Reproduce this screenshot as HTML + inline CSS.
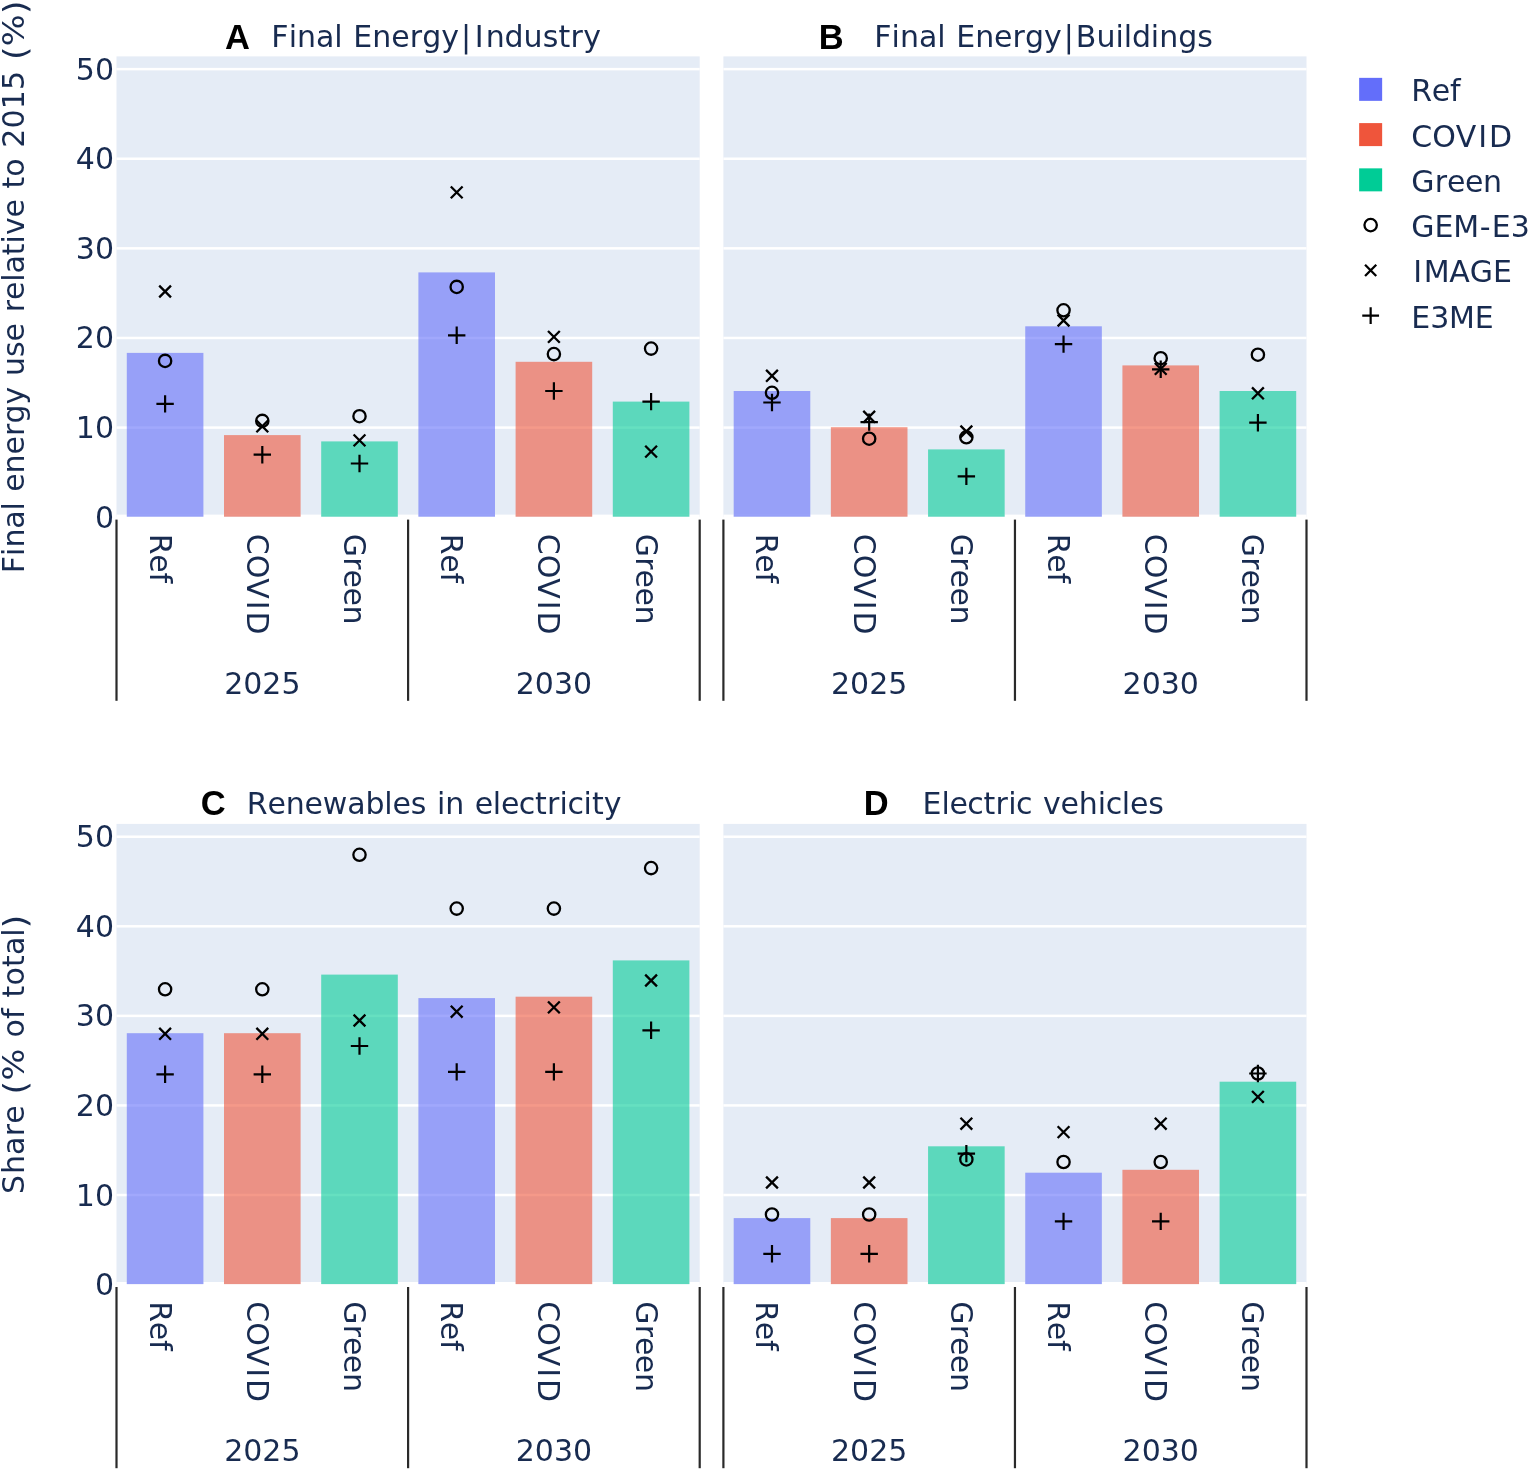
<!DOCTYPE html>
<html><head><meta charset="utf-8"><title>Energy scenarios</title>
<style>html,body{margin:0;padding:0;background:#fff;} svg{display:block;}</style>
</head><body>
<svg width="1535" height="1470" viewBox="0 0 1535 1470" font-family="'DejaVu Sans', 'Liberation Sans', sans-serif">
<rect x="0" y="0" width="1535" height="1470" fill="#ffffff"/>
<rect x="116.5" y="56.4" width="583.20" height="460.80" fill="#E5ECF6"/>
<rect x="116.5" y="426.34" width="583.20" height="2.5" fill="#ffffff"/>
<rect x="116.5" y="336.72" width="583.20" height="2.5" fill="#ffffff"/>
<rect x="116.5" y="247.11" width="583.20" height="2.5" fill="#ffffff"/>
<rect x="116.5" y="157.49" width="583.20" height="2.5" fill="#ffffff"/>
<rect x="116.5" y="67.88" width="583.20" height="2.5" fill="#ffffff"/>
<rect x="116.5" y="514.60" width="583.20" height="5.2" fill="#ffffff"/>
<rect x="126.80" y="514.50" width="76.6" height="2.20" fill="#E5ECF6"/>
<rect x="126.80" y="352.90" width="76.6" height="163.80" fill="#636EFA" fill-opacity="0.6"/>
<rect x="224.00" y="514.50" width="76.6" height="2.20" fill="#E5ECF6"/>
<rect x="224.00" y="435.10" width="76.6" height="81.60" fill="#EF553B" fill-opacity="0.6"/>
<rect x="321.20" y="514.50" width="76.6" height="2.20" fill="#E5ECF6"/>
<rect x="321.20" y="441.40" width="76.6" height="75.30" fill="#00CC96" fill-opacity="0.6"/>
<rect x="418.40" y="514.50" width="76.6" height="2.20" fill="#E5ECF6"/>
<rect x="418.40" y="272.40" width="76.6" height="244.30" fill="#636EFA" fill-opacity="0.6"/>
<rect x="515.60" y="514.50" width="76.6" height="2.20" fill="#E5ECF6"/>
<rect x="515.60" y="361.80" width="76.6" height="154.90" fill="#EF553B" fill-opacity="0.6"/>
<rect x="612.80" y="514.50" width="76.6" height="2.20" fill="#E5ECF6"/>
<rect x="612.80" y="401.60" width="76.6" height="115.10" fill="#00CC96" fill-opacity="0.6"/>
<circle cx="165.10" cy="360.9" r="6.15" fill="none" stroke="#000" stroke-width="2.3"/>
<path d="M159.20,285.60L171.00,297.40M159.20,297.40L171.00,285.60" stroke="#000" stroke-width="2.3" fill="none"/>
<path d="M156.40,403.9H173.80M165.10,395.20V412.60" stroke="#000" stroke-width="2.2" fill="none"/>
<circle cx="262.30" cy="420.9" r="6.15" fill="none" stroke="#000" stroke-width="2.3"/>
<path d="M256.40,420.40L268.20,432.20M256.40,432.20L268.20,420.40" stroke="#000" stroke-width="2.3" fill="none"/>
<path d="M253.60,454.7H271.00M262.30,446.00V463.40" stroke="#000" stroke-width="2.2" fill="none"/>
<circle cx="359.50" cy="416.2" r="6.15" fill="none" stroke="#000" stroke-width="2.3"/>
<path d="M353.60,434.50L365.40,446.30M353.60,446.30L365.40,434.50" stroke="#000" stroke-width="2.3" fill="none"/>
<path d="M350.80,463.5H368.20M359.50,454.80V472.20" stroke="#000" stroke-width="2.2" fill="none"/>
<circle cx="456.70" cy="286.9" r="6.15" fill="none" stroke="#000" stroke-width="2.3"/>
<path d="M450.80,186.50L462.60,198.30M450.80,198.30L462.60,186.50" stroke="#000" stroke-width="2.3" fill="none"/>
<path d="M448.00,335.3H465.40M456.70,326.60V344.00" stroke="#000" stroke-width="2.2" fill="none"/>
<circle cx="553.90" cy="354.1" r="6.15" fill="none" stroke="#000" stroke-width="2.3"/>
<path d="M548.00,331.00L559.80,342.80M548.00,342.80L559.80,331.00" stroke="#000" stroke-width="2.3" fill="none"/>
<path d="M545.20,391.0H562.60M553.90,382.30V399.70" stroke="#000" stroke-width="2.2" fill="none"/>
<circle cx="651.10" cy="348.6" r="6.15" fill="none" stroke="#000" stroke-width="2.3"/>
<path d="M645.20,445.70L657.00,457.50M645.20,457.50L657.00,445.70" stroke="#000" stroke-width="2.3" fill="none"/>
<path d="M642.40,401.6H659.80M651.10,392.90V410.30" stroke="#000" stroke-width="2.2" fill="none"/>
<rect x="115.40" y="519.60" width="2.2" height="181.20" fill="#2a2a2a"/>
<rect x="407.00" y="519.60" width="2.2" height="181.20" fill="#2a2a2a"/>
<rect x="698.60" y="519.60" width="2.2" height="181.20" fill="#2a2a2a"/>
<g transform="translate(149.60,533.80) rotate(90)"><text xml:space="preserve" x="0.00 20.56 38.73" y="0.00" font-size="30" fill="#182b50">Ref</text></g>
<g transform="translate(246.80,533.80) rotate(90)"><text xml:space="preserve" x="-0.00 20.94 44.55 66.96 77.71" y="0.00" font-size="30" fill="#182b50">COVID</text></g>
<g transform="translate(344.00,533.80) rotate(90)"><text xml:space="preserve" x="0.00 23.49 35.77 53.65 71.81" y="0.00" font-size="30" fill="#182b50">Green</text></g>
<g transform="translate(441.20,533.80) rotate(90)"><text xml:space="preserve" x="0.00 20.56 38.73" y="0.00" font-size="30" fill="#182b50">Ref</text></g>
<g transform="translate(538.40,533.80) rotate(90)"><text xml:space="preserve" x="-0.00 20.94 44.55 66.96 77.71" y="0.00" font-size="30" fill="#182b50">COVID</text></g>
<g transform="translate(635.60,533.80) rotate(90)"><text xml:space="preserve" x="0.00 23.49 35.77 53.65 71.81" y="0.00" font-size="30" fill="#182b50">Green</text></g>
<text xml:space="preserve" x="224.14 243.22 262.30 281.38" y="693.90" font-size="30" fill="#182b50">2025</text>
<text xml:space="preserve" x="515.74 534.82 553.90 572.98" y="693.90" font-size="30" fill="#182b50">2030</text>
<text xml:space="preserve" x="94.92" y="527.70" font-size="30" fill="#182b50">0</text>
<text xml:space="preserve" x="75.84 94.92" y="438.09" font-size="30" fill="#182b50">10</text>
<text xml:space="preserve" x="75.84 94.92" y="348.47" font-size="30" fill="#182b50">20</text>
<text xml:space="preserve" x="75.84 94.92" y="258.86" font-size="30" fill="#182b50">30</text>
<text xml:space="preserve" x="75.84 94.92" y="169.24" font-size="30" fill="#182b50">40</text>
<text xml:space="preserve" x="75.84 94.92" y="79.63" font-size="30" fill="#182b50">50</text>
<rect x="723.4" y="56.4" width="583.10" height="460.80" fill="#E5ECF6"/>
<rect x="723.4" y="426.34" width="583.10" height="2.5" fill="#ffffff"/>
<rect x="723.4" y="336.72" width="583.10" height="2.5" fill="#ffffff"/>
<rect x="723.4" y="247.11" width="583.10" height="2.5" fill="#ffffff"/>
<rect x="723.4" y="157.49" width="583.10" height="2.5" fill="#ffffff"/>
<rect x="723.4" y="67.88" width="583.10" height="2.5" fill="#ffffff"/>
<rect x="723.4" y="514.60" width="583.10" height="5.2" fill="#ffffff"/>
<rect x="733.69" y="514.50" width="76.6" height="2.20" fill="#E5ECF6"/>
<rect x="733.69" y="391.00" width="76.6" height="125.70" fill="#636EFA" fill-opacity="0.6"/>
<rect x="830.88" y="514.50" width="76.6" height="2.20" fill="#E5ECF6"/>
<rect x="830.88" y="427.20" width="76.6" height="89.50" fill="#EF553B" fill-opacity="0.6"/>
<rect x="928.06" y="514.50" width="76.6" height="2.20" fill="#E5ECF6"/>
<rect x="928.06" y="449.40" width="76.6" height="67.30" fill="#00CC96" fill-opacity="0.6"/>
<rect x="1025.24" y="514.50" width="76.6" height="2.20" fill="#E5ECF6"/>
<rect x="1025.24" y="326.30" width="76.6" height="190.40" fill="#636EFA" fill-opacity="0.6"/>
<rect x="1122.42" y="514.50" width="76.6" height="2.20" fill="#E5ECF6"/>
<rect x="1122.42" y="365.40" width="76.6" height="151.30" fill="#EF553B" fill-opacity="0.6"/>
<rect x="1219.61" y="514.50" width="76.6" height="2.20" fill="#E5ECF6"/>
<rect x="1219.61" y="391.00" width="76.6" height="125.70" fill="#00CC96" fill-opacity="0.6"/>
<circle cx="771.99" cy="392.8" r="6.15" fill="none" stroke="#000" stroke-width="2.3"/>
<path d="M766.09,369.90L777.89,381.70M766.09,381.70L777.89,369.90" stroke="#000" stroke-width="2.3" fill="none"/>
<path d="M763.29,402.5H780.69M771.99,393.80V411.20" stroke="#000" stroke-width="2.2" fill="none"/>
<circle cx="869.17" cy="438.7" r="6.15" fill="none" stroke="#000" stroke-width="2.3"/>
<path d="M863.27,410.90L875.07,422.70M863.27,422.70L875.07,410.90" stroke="#000" stroke-width="2.3" fill="none"/>
<path d="M860.47,422.1H877.88M869.17,413.40V430.80" stroke="#000" stroke-width="2.2" fill="none"/>
<circle cx="966.36" cy="437.3" r="6.15" fill="none" stroke="#000" stroke-width="2.3"/>
<path d="M960.46,425.60L972.26,437.40M960.46,437.40L972.26,425.60" stroke="#000" stroke-width="2.3" fill="none"/>
<path d="M957.66,476.4H975.06M966.36,467.70V485.10" stroke="#000" stroke-width="2.2" fill="none"/>
<circle cx="1063.54" cy="310.3" r="6.15" fill="none" stroke="#000" stroke-width="2.3"/>
<path d="M1057.64,314.60L1069.44,326.40M1057.64,326.40L1069.44,314.60" stroke="#000" stroke-width="2.3" fill="none"/>
<path d="M1054.84,344.1H1072.24M1063.54,335.40V352.80" stroke="#000" stroke-width="2.2" fill="none"/>
<circle cx="1160.72" cy="358.2" r="6.15" fill="none" stroke="#000" stroke-width="2.3"/>
<path d="M1154.82,363.00L1166.62,374.80M1154.82,374.80L1166.62,363.00" stroke="#000" stroke-width="2.3" fill="none"/>
<path d="M1152.02,369.3H1169.42M1160.72,360.60V378.00" stroke="#000" stroke-width="2.2" fill="none"/>
<circle cx="1257.91" cy="354.7" r="6.15" fill="none" stroke="#000" stroke-width="2.3"/>
<path d="M1252.01,387.40L1263.81,399.20M1252.01,399.20L1263.81,387.40" stroke="#000" stroke-width="2.3" fill="none"/>
<path d="M1249.21,422.7H1266.61M1257.91,414.00V431.40" stroke="#000" stroke-width="2.2" fill="none"/>
<rect x="722.30" y="519.60" width="2.2" height="181.20" fill="#2a2a2a"/>
<rect x="1013.85" y="519.60" width="2.2" height="181.20" fill="#2a2a2a"/>
<rect x="1305.40" y="519.60" width="2.2" height="181.20" fill="#2a2a2a"/>
<g transform="translate(756.49,533.80) rotate(90)"><text xml:space="preserve" x="0.00 20.56 38.73" y="0.00" font-size="30" fill="#182b50">Ref</text></g>
<g transform="translate(853.67,533.80) rotate(90)"><text xml:space="preserve" x="-0.00 20.94 44.55 66.96 77.71" y="0.00" font-size="30" fill="#182b50">COVID</text></g>
<g transform="translate(950.86,533.80) rotate(90)"><text xml:space="preserve" x="0.00 23.49 35.77 53.65 71.81" y="0.00" font-size="30" fill="#182b50">Green</text></g>
<g transform="translate(1048.04,533.80) rotate(90)"><text xml:space="preserve" x="0.00 20.56 38.73" y="0.00" font-size="30" fill="#182b50">Ref</text></g>
<g transform="translate(1145.22,533.80) rotate(90)"><text xml:space="preserve" x="-0.00 20.94 44.55 66.96 77.71" y="0.00" font-size="30" fill="#182b50">COVID</text></g>
<g transform="translate(1242.41,533.80) rotate(90)"><text xml:space="preserve" x="0.00 23.49 35.77 53.65 71.81" y="0.00" font-size="30" fill="#182b50">Green</text></g>
<text xml:space="preserve" x="831.01 850.09 869.17 888.25" y="693.90" font-size="30" fill="#182b50">2025</text>
<text xml:space="preserve" x="1122.56 1141.64 1160.72 1179.80" y="693.90" font-size="30" fill="#182b50">2030</text>
<rect x="116.5" y="823.9" width="583.20" height="460.70" fill="#E5ECF6"/>
<rect x="116.5" y="1193.77" width="583.20" height="2.5" fill="#ffffff"/>
<rect x="116.5" y="1104.20" width="583.20" height="2.5" fill="#ffffff"/>
<rect x="116.5" y="1014.62" width="583.20" height="2.5" fill="#ffffff"/>
<rect x="116.5" y="925.05" width="583.20" height="2.5" fill="#ffffff"/>
<rect x="116.5" y="835.47" width="583.20" height="2.5" fill="#ffffff"/>
<rect x="116.5" y="1282.00" width="583.20" height="5.2" fill="#ffffff"/>
<rect x="126.80" y="1281.90" width="76.6" height="2.20" fill="#E5ECF6"/>
<rect x="126.80" y="1033.20" width="76.6" height="250.90" fill="#636EFA" fill-opacity="0.6"/>
<rect x="224.00" y="1281.90" width="76.6" height="2.20" fill="#E5ECF6"/>
<rect x="224.00" y="1033.20" width="76.6" height="250.90" fill="#EF553B" fill-opacity="0.6"/>
<rect x="321.20" y="1281.90" width="76.6" height="2.20" fill="#E5ECF6"/>
<rect x="321.20" y="974.60" width="76.6" height="309.50" fill="#00CC96" fill-opacity="0.6"/>
<rect x="418.40" y="1281.90" width="76.6" height="2.20" fill="#E5ECF6"/>
<rect x="418.40" y="998.10" width="76.6" height="286.00" fill="#636EFA" fill-opacity="0.6"/>
<rect x="515.60" y="1281.90" width="76.6" height="2.20" fill="#E5ECF6"/>
<rect x="515.60" y="996.70" width="76.6" height="287.40" fill="#EF553B" fill-opacity="0.6"/>
<rect x="612.80" y="1281.90" width="76.6" height="2.20" fill="#E5ECF6"/>
<rect x="612.80" y="960.40" width="76.6" height="323.70" fill="#00CC96" fill-opacity="0.6"/>
<circle cx="165.10" cy="989.3" r="6.15" fill="none" stroke="#000" stroke-width="2.3"/>
<path d="M159.20,1027.90L171.00,1039.70M159.20,1039.70L171.00,1027.90" stroke="#000" stroke-width="2.3" fill="none"/>
<path d="M156.40,1074.3H173.80M165.10,1065.60V1083.00" stroke="#000" stroke-width="2.2" fill="none"/>
<circle cx="262.30" cy="989.3" r="6.15" fill="none" stroke="#000" stroke-width="2.3"/>
<path d="M256.40,1027.90L268.20,1039.70M256.40,1039.70L268.20,1027.90" stroke="#000" stroke-width="2.3" fill="none"/>
<path d="M253.60,1074.3H271.00M262.30,1065.60V1083.00" stroke="#000" stroke-width="2.2" fill="none"/>
<circle cx="359.50" cy="854.8" r="6.15" fill="none" stroke="#000" stroke-width="2.3"/>
<path d="M353.60,1014.60L365.40,1026.40M353.60,1026.40L365.40,1014.60" stroke="#000" stroke-width="2.3" fill="none"/>
<path d="M350.80,1046.0H368.20M359.50,1037.30V1054.70" stroke="#000" stroke-width="2.2" fill="none"/>
<circle cx="456.70" cy="908.6" r="6.15" fill="none" stroke="#000" stroke-width="2.3"/>
<path d="M450.80,1005.80L462.60,1017.60M450.80,1017.60L462.60,1005.80" stroke="#000" stroke-width="2.3" fill="none"/>
<path d="M448.00,1071.9H465.40M456.70,1063.20V1080.60" stroke="#000" stroke-width="2.2" fill="none"/>
<circle cx="553.90" cy="908.6" r="6.15" fill="none" stroke="#000" stroke-width="2.3"/>
<path d="M548.00,1001.50L559.80,1013.30M548.00,1013.30L559.80,1001.50" stroke="#000" stroke-width="2.3" fill="none"/>
<path d="M545.20,1071.9H562.60M553.90,1063.20V1080.60" stroke="#000" stroke-width="2.2" fill="none"/>
<circle cx="651.10" cy="868.1" r="6.15" fill="none" stroke="#000" stroke-width="2.3"/>
<path d="M645.20,974.60L657.00,986.40M645.20,986.40L657.00,974.60" stroke="#000" stroke-width="2.3" fill="none"/>
<path d="M642.40,1030.3H659.80M651.10,1021.60V1039.00" stroke="#000" stroke-width="2.2" fill="none"/>
<rect x="115.40" y="1287.00" width="2.2" height="181.20" fill="#2a2a2a"/>
<rect x="407.00" y="1287.00" width="2.2" height="181.20" fill="#2a2a2a"/>
<rect x="698.60" y="1287.00" width="2.2" height="181.20" fill="#2a2a2a"/>
<g transform="translate(149.60,1301.20) rotate(90)"><text xml:space="preserve" x="0.00 20.56 38.73" y="0.00" font-size="30" fill="#182b50">Ref</text></g>
<g transform="translate(246.80,1301.20) rotate(90)"><text xml:space="preserve" x="-0.00 20.94 44.55 66.96 77.71" y="0.00" font-size="30" fill="#182b50">COVID</text></g>
<g transform="translate(344.00,1301.20) rotate(90)"><text xml:space="preserve" x="0.00 23.49 35.77 53.65 71.81" y="0.00" font-size="30" fill="#182b50">Green</text></g>
<g transform="translate(441.20,1301.20) rotate(90)"><text xml:space="preserve" x="0.00 20.56 38.73" y="0.00" font-size="30" fill="#182b50">Ref</text></g>
<g transform="translate(538.40,1301.20) rotate(90)"><text xml:space="preserve" x="-0.00 20.94 44.55 66.96 77.71" y="0.00" font-size="30" fill="#182b50">COVID</text></g>
<g transform="translate(635.60,1301.20) rotate(90)"><text xml:space="preserve" x="0.00 23.49 35.77 53.65 71.81" y="0.00" font-size="30" fill="#182b50">Green</text></g>
<text xml:space="preserve" x="224.14 243.22 262.30 281.38" y="1461.30" font-size="30" fill="#182b50">2025</text>
<text xml:space="preserve" x="515.74 534.82 553.90 572.98" y="1461.30" font-size="30" fill="#182b50">2030</text>
<text xml:space="preserve" x="94.92" y="1295.10" font-size="30" fill="#182b50">0</text>
<text xml:space="preserve" x="75.84 94.92" y="1205.52" font-size="30" fill="#182b50">10</text>
<text xml:space="preserve" x="75.84 94.92" y="1115.95" font-size="30" fill="#182b50">20</text>
<text xml:space="preserve" x="75.84 94.92" y="1026.38" font-size="30" fill="#182b50">30</text>
<text xml:space="preserve" x="75.84 94.92" y="936.80" font-size="30" fill="#182b50">40</text>
<text xml:space="preserve" x="75.84 94.92" y="847.22" font-size="30" fill="#182b50">50</text>
<rect x="723.4" y="823.9" width="583.10" height="460.70" fill="#E5ECF6"/>
<rect x="723.4" y="1193.77" width="583.10" height="2.5" fill="#ffffff"/>
<rect x="723.4" y="1104.20" width="583.10" height="2.5" fill="#ffffff"/>
<rect x="723.4" y="1014.62" width="583.10" height="2.5" fill="#ffffff"/>
<rect x="723.4" y="925.05" width="583.10" height="2.5" fill="#ffffff"/>
<rect x="723.4" y="835.47" width="583.10" height="2.5" fill="#ffffff"/>
<rect x="723.4" y="1282.00" width="583.10" height="5.2" fill="#ffffff"/>
<rect x="733.69" y="1281.90" width="76.6" height="2.20" fill="#E5ECF6"/>
<rect x="733.69" y="1218.10" width="76.6" height="66.00" fill="#636EFA" fill-opacity="0.6"/>
<rect x="830.88" y="1281.90" width="76.6" height="2.20" fill="#E5ECF6"/>
<rect x="830.88" y="1218.10" width="76.6" height="66.00" fill="#EF553B" fill-opacity="0.6"/>
<rect x="928.06" y="1281.90" width="76.6" height="2.20" fill="#E5ECF6"/>
<rect x="928.06" y="1146.30" width="76.6" height="137.80" fill="#00CC96" fill-opacity="0.6"/>
<rect x="1025.24" y="1281.90" width="76.6" height="2.20" fill="#E5ECF6"/>
<rect x="1025.24" y="1172.70" width="76.6" height="111.40" fill="#636EFA" fill-opacity="0.6"/>
<rect x="1122.42" y="1281.90" width="76.6" height="2.20" fill="#E5ECF6"/>
<rect x="1122.42" y="1169.80" width="76.6" height="114.30" fill="#EF553B" fill-opacity="0.6"/>
<rect x="1219.61" y="1281.90" width="76.6" height="2.20" fill="#E5ECF6"/>
<rect x="1219.61" y="1081.70" width="76.6" height="202.40" fill="#00CC96" fill-opacity="0.6"/>
<circle cx="771.99" cy="1214.5" r="6.15" fill="none" stroke="#000" stroke-width="2.3"/>
<path d="M766.09,1176.60L777.89,1188.40M766.09,1188.40L777.89,1176.60" stroke="#000" stroke-width="2.3" fill="none"/>
<path d="M763.29,1253.8H780.69M771.99,1245.10V1262.50" stroke="#000" stroke-width="2.2" fill="none"/>
<circle cx="869.17" cy="1214.5" r="6.15" fill="none" stroke="#000" stroke-width="2.3"/>
<path d="M863.27,1176.60L875.07,1188.40M863.27,1188.40L875.07,1176.60" stroke="#000" stroke-width="2.3" fill="none"/>
<path d="M860.47,1253.8H877.88M869.17,1245.10V1262.50" stroke="#000" stroke-width="2.2" fill="none"/>
<circle cx="966.36" cy="1159.4" r="6.15" fill="none" stroke="#000" stroke-width="2.3"/>
<path d="M960.46,1117.80L972.26,1129.60M960.46,1129.60L972.26,1117.80" stroke="#000" stroke-width="2.3" fill="none"/>
<path d="M957.66,1153.6H975.06M966.36,1144.90V1162.30" stroke="#000" stroke-width="2.2" fill="none"/>
<circle cx="1063.54" cy="1162.0" r="6.15" fill="none" stroke="#000" stroke-width="2.3"/>
<path d="M1057.64,1126.20L1069.44,1138.00M1057.64,1138.00L1069.44,1126.20" stroke="#000" stroke-width="2.3" fill="none"/>
<path d="M1054.84,1221.4H1072.24M1063.54,1212.70V1230.10" stroke="#000" stroke-width="2.2" fill="none"/>
<circle cx="1160.72" cy="1162.0" r="6.15" fill="none" stroke="#000" stroke-width="2.3"/>
<path d="M1154.82,1117.80L1166.62,1129.60M1154.82,1129.60L1166.62,1117.80" stroke="#000" stroke-width="2.3" fill="none"/>
<path d="M1152.02,1221.4H1169.42M1160.72,1212.70V1230.10" stroke="#000" stroke-width="2.2" fill="none"/>
<circle cx="1257.91" cy="1073.5" r="6.15" fill="none" stroke="#000" stroke-width="2.3"/>
<path d="M1252.01,1091.00L1263.81,1102.80M1252.01,1102.80L1263.81,1091.00" stroke="#000" stroke-width="2.3" fill="none"/>
<path d="M1249.21,1073.5H1266.61M1257.91,1064.80V1082.20" stroke="#000" stroke-width="2.2" fill="none"/>
<rect x="722.30" y="1287.00" width="2.2" height="181.20" fill="#2a2a2a"/>
<rect x="1013.85" y="1287.00" width="2.2" height="181.20" fill="#2a2a2a"/>
<rect x="1305.40" y="1287.00" width="2.2" height="181.20" fill="#2a2a2a"/>
<g transform="translate(756.49,1301.20) rotate(90)"><text xml:space="preserve" x="0.00 20.56 38.73" y="0.00" font-size="30" fill="#182b50">Ref</text></g>
<g transform="translate(853.67,1301.20) rotate(90)"><text xml:space="preserve" x="-0.00 20.94 44.55 66.96 77.71" y="0.00" font-size="30" fill="#182b50">COVID</text></g>
<g transform="translate(950.86,1301.20) rotate(90)"><text xml:space="preserve" x="0.00 23.49 35.77 53.65 71.81" y="0.00" font-size="30" fill="#182b50">Green</text></g>
<g transform="translate(1048.04,1301.20) rotate(90)"><text xml:space="preserve" x="0.00 20.56 38.73" y="0.00" font-size="30" fill="#182b50">Ref</text></g>
<g transform="translate(1145.22,1301.20) rotate(90)"><text xml:space="preserve" x="-0.00 20.94 44.55 66.96 77.71" y="0.00" font-size="30" fill="#182b50">COVID</text></g>
<g transform="translate(1242.41,1301.20) rotate(90)"><text xml:space="preserve" x="0.00 23.49 35.77 53.65 71.81" y="0.00" font-size="30" fill="#182b50">Green</text></g>
<text xml:space="preserve" x="831.01 850.09 869.17 888.25" y="1461.30" font-size="30" fill="#182b50">2025</text>
<text xml:space="preserve" x="1122.56 1141.64 1160.72 1179.80" y="1461.30" font-size="30" fill="#182b50">2030</text>
<text x="224.90" y="48.80" font-family="'Liberation Sans', Arial, sans-serif" font-weight="bold" font-size="34.5" fill="#000">A</text>
<text xml:space="preserve" x="271.37 288.66 297.03 316.00 334.25 343.11 353.27 372.36 391.22 409.74 422.25 441.26 460.91 474.78 485.63 504.59 523.59 542.73 558.49 570.61 583.30" y="46.80" font-size="30" fill="#182b50">Final Energy|Industry</text>
<text x="818.80" y="48.90" font-family="'Liberation Sans', Arial, sans-serif" font-weight="bold" font-size="34.5" fill="#000">B</text>
<text xml:space="preserve" x="874.32 891.60 899.96 918.91 937.15 946.01 956.16 975.24 994.08 1012.59 1025.09 1044.09 1063.72 1075.72 1096.43 1115.46 1123.74 1131.93 1150.84 1159.20 1178.15 1197.14" y="46.80" font-size="30" fill="#182b50">Final Energy|Buildings</text>
<text x="200.80" y="814.90" font-family="'Liberation Sans', Arial, sans-serif" font-weight="bold" font-size="34.5" fill="#000">C</text>
<text xml:space="preserve" x="246.82 267.48 285.74 304.55 322.84 347.31 365.44 384.32 392.38 410.64 426.85 436.90 445.24 464.83 474.67 492.85 500.91 518.73 534.90 546.99 559.56 567.47 583.54 591.90 603.78" y="813.90" font-size="30" fill="#182b50">Renewables in electricity</text>
<text x="863.80" y="814.90" font-family="'Liberation Sans', Arial, sans-serif" font-weight="bold" font-size="34.5" fill="#000">D</text>
<text xml:space="preserve" x="922.42 941.41 949.48 967.33 983.50 995.61 1008.19 1016.12 1032.77 1042.92 1060.50 1078.77 1097.80 1105.73 1121.81 1129.88 1148.16" y="813.90" font-size="30" fill="#182b50">Electric vehicles</text>
<g transform="translate(24.1,286.80) rotate(-90)"><text xml:space="preserve" x="-286.44 -269.16 -260.80 -241.85 -223.61 -214.75 -204.89 -186.61 -167.77 -149.26 -136.75 -117.76 -99.39 -89.25 -70.13 -54.67 -35.90 -25.53 -13.14 5.06 13.25 31.59 43.39 51.76 69.35 88.13 98.29 110.11 129.00 139.15 158.36 177.57 196.79 216.48" y="0.00" font-size="30" fill="#182b50">Final energy use relative to 2015 </text><text x="0" y="0" font-size="30" fill="#182b50" text-anchor="middle" transform="translate(233.42,1.90) scale(1.15,1.082)">(</text><text x="0" y="0" font-size="30" fill="#182b50" text-anchor="middle" transform="translate(256.53,0.00) scale(1.12,1.0)">%</text><text x="0" y="0" font-size="30" fill="#182b50" text-anchor="middle" transform="translate(279.64,1.90) scale(1.15,1.082)">)</text></g>
<g transform="translate(24.1,1054.80) rotate(-90)"><text xml:space="preserve" x="-139.32 -119.25 -100.15 -81.48 -68.97 -50.07" y="0.00" font-size="30" fill="#182b50">Share </text><text x="0" y="0" font-size="30" fill="#182b50" text-anchor="middle" transform="translate(-33.03,1.90) scale(1.15,1.082)">(</text><text x="0" y="0" font-size="30" fill="#182b50" text-anchor="middle" transform="translate(-9.74,0.00) scale(1.12,1.0)">%</text><text xml:space="preserve" x="7.23 17.42 35.91 47.14 57.39 69.33 87.86 99.70 118.05" y="0.00" font-size="30" fill="#182b50"> of total</text><text x="0" y="0" font-size="30" fill="#182b50" text-anchor="middle" transform="translate(133.30,1.90) scale(1.15,1.082)">)</text></g>
<rect x="1359.15" y="77.85" width="23" height="23" fill="#636EFA"/>
<text xml:space="preserve" x="1411.30 1431.86 1450.03" y="101.30" font-size="30" fill="#182b50">Ref</text>
<rect x="1359.15" y="123.10" width="23" height="23" fill="#EF553B"/>
<text xml:space="preserve" x="1411.30 1432.24 1455.85 1478.26 1489.01" y="146.55" font-size="30" fill="#182b50">COVID</text>
<rect x="1359.15" y="168.35" width="23" height="23" fill="#00CC96"/>
<text xml:space="preserve" x="1411.30 1434.79 1447.07 1464.95 1483.11" y="191.80" font-size="30" fill="#182b50">Green</text>
<circle cx="1370.65" cy="225.10" r="6.2" fill="none" stroke="#000" stroke-width="2.3"/>
<text xml:space="preserve" x="1411.30 1434.55 1453.21 1479.85 1491.73 1510.69" y="237.05" font-size="30" fill="#182b50">GEM-E3</text>
<path d="M1365.05,264.75L1376.25,275.95M1365.05,275.95L1376.25,264.75" stroke="#000" stroke-width="2.3" fill="none"/>
<text xml:space="preserve" x="1413.19 1423.63 1449.22 1469.74 1492.99" y="282.30" font-size="30" fill="#182b50">IMAGE</text>
<path d="M1362.25,315.60H1379.05M1370.65,307.20V324.00" stroke="#000" stroke-width="2.2" fill="none"/>
<text xml:space="preserve" x="1411.30 1430.26 1449.04 1474.63" y="327.55" font-size="30" fill="#182b50">E3ME</text>
</svg>
</body></html>
